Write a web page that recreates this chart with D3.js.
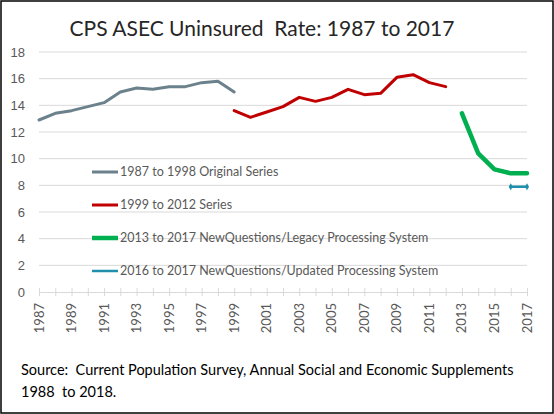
<!DOCTYPE html>
<html>
<head>
<meta charset="utf-8">
<script src="https://cdn.jsdelivr.net/npm/d3@7/dist/d3.min.js"></script>
<style>
	body { margin: 0; background: #fff; }
	svg { display: block; font-family: Lato, "Open Sans", sans-serif; }
	text { white-space: pre; }
	.c-cps__grid line { stroke: #d9d9d9; stroke-width: 1; }
	.c-cps__axis-text { fill: #595959; font-size: 13px; }
	.c-cps__line { fill: none; stroke-linejoin: round; stroke-linecap: round; }
	.c-cps__legend-text { fill: #595959; font-size: 12.5px; }
</style>
</head>
<body>
<div id="chart"></div>
<script>
var title = "CPS ASEC Uninsured  Rate: 1987 to 2017";
var sourceLines = [
	"Source:  Current Population Survey, Annual Social and Economic Supplements",
	"1988  to 2018."
];

var yTicks = [0, 2, 4, 6, 8, 10, 12, 14, 16, 18];
var yearLabels = [1987, 1989, 1991, 1993, 1995, 1997, 1999, 2001, 2003, 2005, 2007, 2009, 2011, 2013, 2015, 2017];

var originalYears = [1987, 1988, 1989, 1990, 1991, 1992, 1993, 1994, 1995, 1996, 1997, 1998, 1999];
var originalRates = [12.9, 13.4, 13.6, 13.9, 14.2, 15.0, 15.3, 15.2, 15.4, 15.4, 15.7, 15.8, 15.0];

var seriesYears = [1999, 2000, 2001, 2002, 2003, 2004, 2005, 2006, 2007, 2008, 2009, 2010, 2011, 2012];
var seriesRates = [13.6, 13.1, 13.5, 13.9, 14.6, 14.3, 14.6, 15.2, 14.8, 14.9, 16.1, 16.3, 15.7, 15.4];

var legacyYears = [2013, 2014, 2015, 2016, 2017];
var legacyRates = [13.4, 10.4, 9.2, 8.9, 8.9];

var updatedYears = [2016, 2017];
var updatedRates = [7.9, 7.9];

var legendLabels = [
	"1987 to 1998 Original Series",
	"1999 to 2012 Series",
	"2013 to 2017 NewQuestions/Legacy Processing System",
	"2016 to 2017 NewQuestions/Updated Processing System"
];
var colors = ["#6b818c", "#c00000", "#00b050", "#1f8fab"];
var widths = [3, 3, 4.5, 2.5];

var width = 554, height = 414;
var classPrefix = "c-cps";

var svg = d3.select("#chart")
	.append("svg")
	.attr("width", width)
	.attr("height", height);

//Outer frame
svg.append("rect")
	.attr("x", 1)
	.attr("y", 1)
	.attr("width", 552)
	.attr("height", 412)
	.attr("fill", "#fff")
	.attr("stroke", "#000")
	.attr("stroke-width", 1.5);

//Scales
var xScale = d3.scaleLinear()
	.domain([1987, 2017])
	.range([39, 527]);
var yScale = d3.scaleLinear()
	.domain([0, 18])
	.range([292, 52]);

//Gridlines
svg.append("g")
	.attr("class", classPrefix + "__grid")
	.selectAll("line")
	.data(yTicks.filter(function(d){ return d > 0; }))
	.enter().append("line")
	.attr("x1", xScale(1987))
	.attr("x2", xScale(2017))
	.attr("y1", function(d){ return yScale(d); })
	.attr("y2", function(d){ return yScale(d); });

//Y axis labels
var yAxis = d3.axisLeft(yScale)
	.tickValues(yTicks)
	.tickSize(0)
	.tickPadding(0);

var yG = svg.append("g")
	.attr("transform", "translate(25,0)")
	.call(yAxis);
yG.select(".domain").remove();
yG.selectAll("text")
	.attr("class", classPrefix + "__axis-text")
	.attr("font-family", null)
	.attr("font-size", null);

//X axis: ticks for every year, labels every second year
var allYears = d3.range(1987, 2018);
var xAxis = d3.axisBottom(xScale)
	.tickValues(allYears)
	.tickSize(4)
	.tickFormat("");

var xG = svg.append("g")
	.attr("transform", "translate(0," + yScale(0) + ")")
	.call(xAxis);
xG.select(".domain").attr("stroke", "#d9d9d9");
xG.selectAll(".tick line")
	.attr("stroke", "#d9d9d9")
	.attr("y1", -4)
	.attr("y2", 4);

svg.append("g")
	.selectAll("text")
	.data(yearLabels)
	.enter().append("text")
	.attr("class", classPrefix + "__axis-text")
	.attr("text-anchor", "end")
	.attr("transform", function(d){
		return "translate(" + (xScale(d) + 4.5) + ",303)rotate(-90)";
	})
	.text(function(d){ return d; });

//Lines
var line = d3.line()
	.x(function(d){ return xScale(d[0]); })
	.y(function(d){ return yScale(d[1]); });

var seriesList = [
	d3.zip(originalYears, originalRates),
	d3.zip(seriesYears, seriesRates),
	d3.zip(legacyYears, legacyRates),
	d3.zip(updatedYears, updatedRates)
];

var lineContainer = svg.append("g")
	.attr("class", classPrefix + "__lines");

seriesList.forEach(function(points, i){
	lineContainer.append("path")
		.datum(points)
		.attr("class", classPrefix + "__line")
		.attr("d", line)
		.attr("stroke", colors[i])
		.attr("stroke-width", widths[i]);
});

//Little diamond ends on the updated series
lineContainer.selectAll(".c-cps__marker")
	.data(seriesList[3])
	.enter().append("path")
	.attr("class", classPrefix + "__marker")
	.attr("d", d3.symbol().type(d3.symbolDiamond).size(14))
	.attr("transform", function(d){
		return "translate(" + xScale(d[0]) + "," + yScale(d[1]) + ")";
	})
	.attr("fill", colors[3]);

//Legend
var legend = svg.append("g")
	.attr("class", classPrefix + "__legend");

var legendItems = legend.selectAll("g")
	.data(legendLabels)
	.enter().append("g")
	.attr("transform", function(d, i){
		return "translate(92," + (172 + i * 33) + ")";
	});

legendItems.append("line")
	.attr("x1", 0)
	.attr("x2", 26)
	.attr("stroke", function(d, i){ return colors[i]; })
	.attr("stroke-width", function(d, i){ return widths[i]; });

legendItems.append("text")
	.attr("class", classPrefix + "__legend-text")
	.attr("x", 28)
	.attr("dy", "0.35em")
	.text(function(d){ return d; });

//Title
svg.append("text")
	.attr("x", 262)
	.attr("y", 36)
	.attr("text-anchor", "middle")
	.attr("fill", "#262626")
	.attr("font-size", "21px")
	.text(title);

//Source note
svg.append("g")
	.selectAll("text")
	.data(sourceLines)
	.enter().append("text")
	.attr("x", 21)
	.attr("y", function(d, i){ return 375 + i * 22; })
	.attr("fill", "#000")
	.attr("font-size", "14.5px")
	.text(function(d){ return d; });
</script>
</body>
</html>
